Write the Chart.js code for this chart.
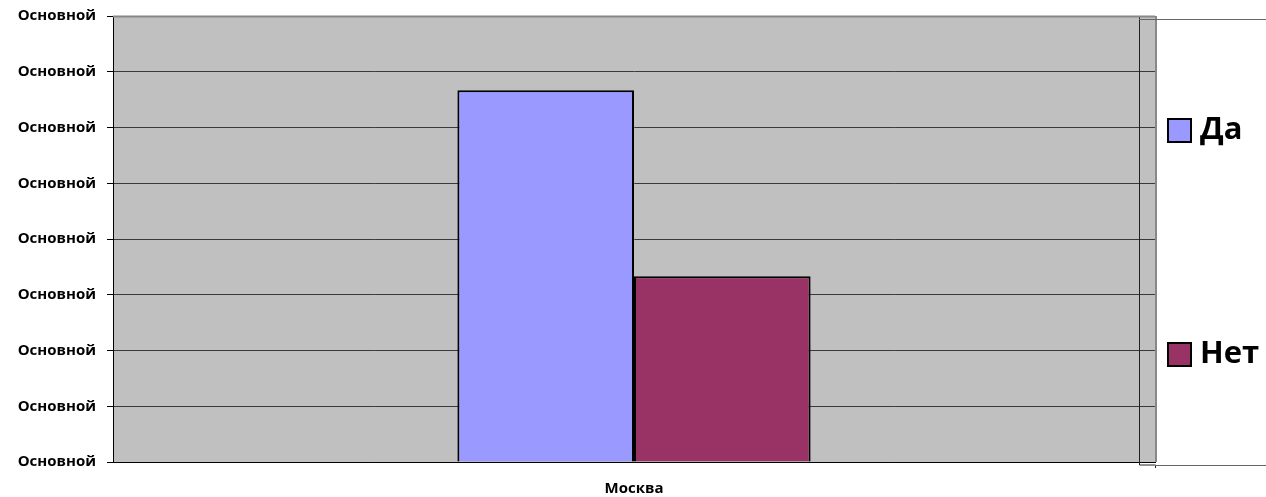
<!DOCTYPE html>
<html>
<head>
<meta charset="utf-8">
<script src="https://cdn.jsdelivr.net/npm/chart.js@4.4.0/dist/chart.umd.min.js"></script>
<style>
    html, body { margin: 0; padding: 0; background: #fff; }
    #wrap { width: 1266px; height: 497px; }
</style>
</head>
<body>
<div id="wrap"><canvas id="chart"></canvas></div>
<script>
// data
const categories = ['Москва']
const seriesNames = ['Да', 'Нет']
const seriesValues = [[0.667], [0.333]]
const seriesColors = ['#9999FF', '#993366']
const tickLabel = 'Основной'
const yMax = 0.8
const yStep = 0.1

const FONT = '"Open Sans", "Noto Sans", sans-serif'

// gray wall behind the bars
const wallPlugin = {
    id: 'wall',
    beforeDraw(chart) {
        const { ctx, chartArea: a } = chart
        ctx.save()
        ctx.fillStyle = '#C0C0C0'
        ctx.fillRect(a.left, a.top, a.right - a.left, a.bottom - a.top)
        ctx.restore()
    },
    afterDraw(chart) {
        const { ctx, chartArea: a, width } = chart
        const inner = a.right - 16
        ctx.save()
        ctx.lineWidth = 1
        // side wall edge
        ctx.strokeStyle = '#222'
        ctx.beginPath()
        ctx.moveTo(inner + 0.5, a.top)
        ctx.lineTo(inner + 0.5, a.bottom + 3)
        ctx.lineTo(a.right + 0.5, a.bottom + 3)
        ctx.lineTo(a.right + 0.5, a.bottom + 6)
        ctx.stroke()
        ctx.strokeStyle = '#888'
        ctx.lineWidth = 2
        ctx.beginPath()
        ctx.moveTo(a.right + 1, a.top)
        ctx.lineTo(a.right + 1, a.bottom)
        ctx.stroke()
        ctx.beginPath()
        ctx.moveTo(a.left, a.top + 0.5)
        ctx.lineTo(a.right, a.top + 0.5)
        ctx.stroke()
        // floor lines running to the right
        ctx.lineWidth = 1
        ctx.strokeStyle = '#666'
        ctx.beginPath()
        ctx.moveTo(inner, a.top + 3.5)
        ctx.lineTo(width, a.top + 3.5)
        ctx.moveTo(a.right, a.bottom + 3.5)
        ctx.lineTo(width, a.bottom + 3.5)
        ctx.stroke()

        // legend
        const ys = [a.top + 103, a.top + 327]
        chart.data.datasets.forEach((ds, i) => {
            const x = a.right + 13
            const y = ys[i]
            ctx.fillStyle = ds.backgroundColor
            ctx.fillRect(x, y, 23, 23)
            ctx.strokeStyle = '#000'
            ctx.lineWidth = 2
            ctx.strokeRect(x, y, 23, 23)
            ctx.fillStyle = '#000'
            ctx.font = 'bold 31px ' + FONT
            ctx.textBaseline = 'middle'
            ctx.textAlign = 'left'
            ctx.fillText(ds.label, x + 32, y + 11)
        })
        ctx.restore()
    }
}

const datasets = seriesNames.map((name, i) => ({
    label: name,
    data: seriesValues[i],
    backgroundColor: seriesColors[i],
    borderColor: '#000',
    borderWidth: 2,
    barPercentage: 1,
    categoryPercentage: 0.339
}))

new Chart(document.getElementById('chart'), {
    type: 'bar',
    data: { labels: categories, datasets: datasets },
    plugins: [wallPlugin],
    options: {
        responsive: true,
        maintainAspectRatio: false,
        animation: false,
        layout: { padding: { top: 16, right: 111, left: 0, bottom: 0 } },
        plugins: {
            legend: { display: false },
            tooltip: { enabled: false }
        },
        scales: {
            x: {
                grid: { display: false },
                border: { display: true, color: '#000', width: 1 },
                ticks: { color: '#000', font: { family: FONT, weight: 'bold', size: 15 }, padding: 10 },
                afterFit(scale) { scale.height = 35 }
            },
            y: {
                min: 0,
                max: yMax,
                grid: { color: '#3a3a3a', lineWidth: 1, tickLength: 6, tickColor: '#000' },
                border: { display: true, color: '#000', width: 1 },
                ticks: {
                    stepSize: yStep,
                    color: '#000',
                    padding: 11,
                    font: { family: FONT, weight: 'bold', size: 15 },
                    callback: () => tickLabel
                },
                afterFit(scale) {
                    scale.width = 113
                    // labels may overhang the top edge
                    scale.paddingTop = 0
                    scale.paddingBottom = 0
                }
            }
        }
    }
})
</script>
</body>
</html>
